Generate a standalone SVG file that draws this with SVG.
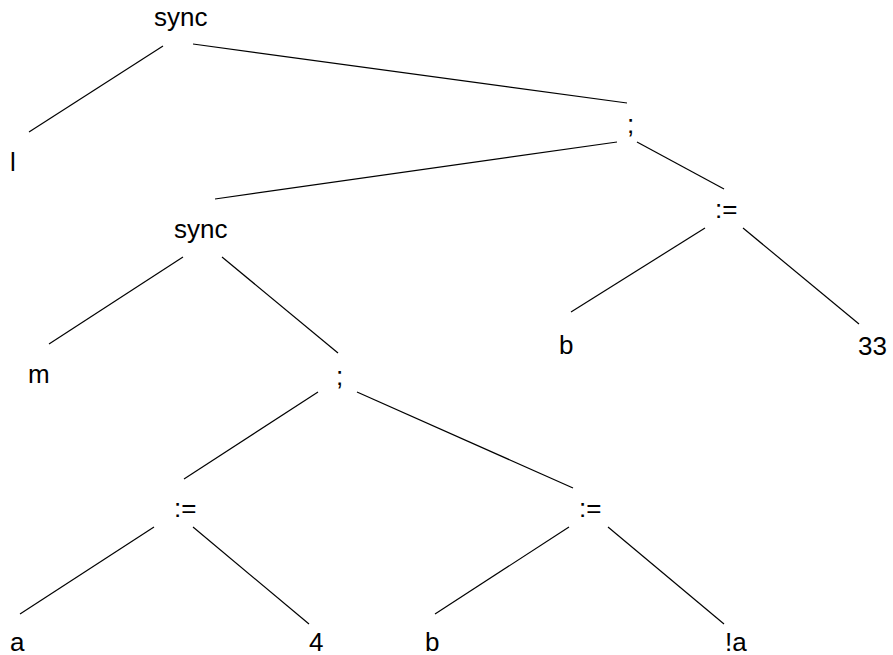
<svg xmlns="http://www.w3.org/2000/svg" width="893" height="655" viewBox="0 0 893 655">
<style>
text{font-family:"Liberation Sans",Arial,sans-serif;font-size:26px;fill:#000}
line{stroke:#000;stroke-width:1.2}
</style>
<rect width="893" height="655" fill="#fff"/>
<g id="connectors">
<line x1="163" y1="46" x2="29" y2="132"/>
<line x1="193" y1="44" x2="627" y2="103"/>
<line x1="617" y1="142" x2="215" y2="199"/>
<line x1="637" y1="142" x2="724" y2="189"/>
<line x1="705" y1="228" x2="571" y2="312"/>
<line x1="743" y1="228" x2="859" y2="324"/>
<line x1="183" y1="257" x2="49" y2="344"/>
<line x1="222" y1="257" x2="338" y2="353"/>
<line x1="318" y1="392" x2="184" y2="479"/>
<line x1="357" y1="392" x2="573" y2="488"/>
<line x1="154" y1="527" x2="20" y2="614"/>
<line x1="193" y1="527" x2="309" y2="624"/>
<line x1="569" y1="527" x2="435" y2="614"/>
<line x1="608" y1="527" x2="724" y2="624"/>
</g>
<g id="n1"><text x="154" y="26">sync</text></g>
<g id="n2"><text x="10" y="171">l</text></g>
<g id="n3"><text x="627" y="133">;</text></g>
<g id="n4"><text x="174" y="238">sync</text></g>
<g id="n5"><text x="715" y="218">:=</text></g>
<g id="n6"><text x="28" y="383">m</text></g>
<g id="n7"><text x="336" y="385">;</text></g>
<g id="n8"><text x="559" y="354">b</text></g>
<g id="n9"><text x="858" y="355">33</text></g>
<g id="n10"><text x="174" y="517">:=</text></g>
<g id="n11"><text x="579" y="517">:=</text></g>
<g id="n12"><text x="10" y="651">a</text></g>
<g id="n13"><text x="309" y="651">4</text></g>
<g id="n14"><text x="425" y="651">b</text></g>
<g id="n15"><text x="725" y="651">!a</text></g>
</svg>
